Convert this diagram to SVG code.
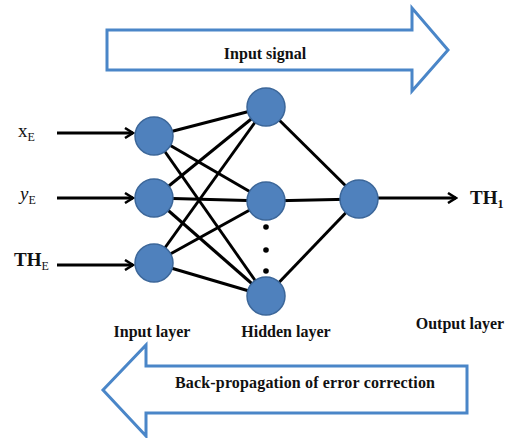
<svg xmlns="http://www.w3.org/2000/svg" width="510" height="438" viewBox="0 0 510 438">
<defs>
<style>
.node{fill:#4F81BD;stroke:#3B6699;stroke-width:1.5}
.edge{stroke:#000;stroke-width:3;fill:none}
.big{fill:#fff;stroke:#4A86C8;stroke-width:3}
text{font-family:'Liberation Serif','Times New Roman',serif;fill:#111}
.lbl{font-size:16px;font-weight:bold}
.var{font-size:19px}
.sub{font-size:12px}
</style>
<marker id="ah" viewBox="0 0 12 12" refX="10" refY="6" markerWidth="12" markerHeight="12" markerUnits="userSpaceOnUse" orient="auto">
<path d="M2,1 L10,6 L2,11" fill="none" stroke="#000" stroke-width="2.5"/>
</marker>
</defs>
<rect width="510" height="438" fill="#fff"/>
<g id="input-signal">
<path class="big" d="M107,30 L412,30 L412,8 L448,50 L412,91 L412,70 L107,70 Z"/>
<text class="lbl" x="265" y="55" text-anchor="middle" dominant-baseline="middle">Input signal</text>
</g>
<g id="back-propagation">
<path class="big" d="M467,366 L146,366 L146,345 L103,390 L146,436 L146,413 L467,413 Z"/>
<text class="lbl" x="305" y="384" text-anchor="middle" dominant-baseline="middle" textLength="260">Back-propagation of error correction</text>
</g>
<g id="connectors">
<line class="edge" x1="57" y1="133" x2="133" y2="133" marker-end="url(#ah)"/>
<line class="edge" x1="57" y1="198" x2="133" y2="198" marker-end="url(#ah)"/>
<line class="edge" x1="57" y1="265" x2="133" y2="265" marker-end="url(#ah)"/>
<line class="edge" x1="154" y1="136" x2="266" y2="107"/>
<line class="edge" x1="154" y1="136" x2="266" y2="201"/>
<line class="edge" x1="154" y1="136" x2="266" y2="296"/>
<line class="edge" x1="154" y1="198" x2="266" y2="107"/>
<line class="edge" x1="154" y1="198" x2="266" y2="201"/>
<line class="edge" x1="154" y1="198" x2="266" y2="296"/>
<line class="edge" x1="154" y1="263" x2="266" y2="107"/>
<line class="edge" x1="154" y1="263" x2="266" y2="201"/>
<line class="edge" x1="154" y1="263" x2="266" y2="296"/>
<line class="edge" x1="266" y1="107" x2="359" y2="199"/>
<line class="edge" x1="266" y1="201" x2="359" y2="199"/>
<line class="edge" x1="266" y1="296" x2="359" y2="199"/>
<line class="edge" x1="378" y1="198" x2="456" y2="198" marker-end="url(#ah)"/>
</g>
<g id="in1"><circle class="node" cx="154" cy="136" r="19"/></g>
<g id="in2"><circle class="node" cx="154" cy="198" r="19"/></g>
<g id="in3"><circle class="node" cx="154" cy="263" r="19"/></g>
<g id="h1"><circle class="node" cx="266" cy="107" r="19"/></g>
<g id="h2"><circle class="node" cx="266" cy="201" r="19"/></g>
<g id="h3"><circle class="node" cx="266" cy="296" r="19"/></g>
<g id="dots" fill="#000">
<circle cx="266" cy="227" r="2.8"/>
<circle cx="266" cy="250" r="2.8"/>
<circle cx="266" cy="271" r="2.8"/>
</g>
<g id="out"><circle class="node" cx="359" cy="199" r="19"/></g>
<g id="labels">
<text class="var" x="18" y="137">x<tspan class="sub" dy="4">E</tspan></text>
<text class="var" x="20" y="200" font-style="italic">y<tspan class="sub" dy="4" font-style="normal">E</tspan></text>
<text class="var" x="14" y="266" font-weight="bold">TH<tspan class="sub" dy="4" font-weight="normal">E</tspan></text>
<text class="var" x="470" y="204" font-weight="bold">TH<tspan class="sub" dy="4">1</tspan></text>
<text class="lbl" x="152" y="337" text-anchor="middle">Input layer</text>
<text class="lbl" x="286" y="337" text-anchor="middle">Hidden layer</text>
<text class="lbl" x="460" y="329" text-anchor="middle">Output layer</text>
</g>
</svg>
